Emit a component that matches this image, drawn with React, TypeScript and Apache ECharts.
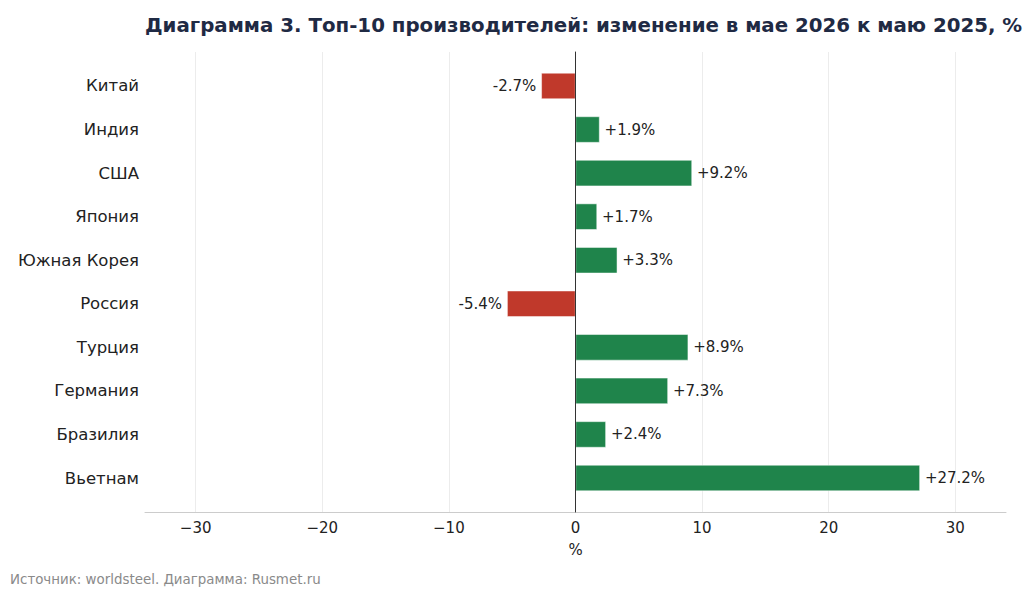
import React, { useEffect, useRef } from "react";
import * as echarts from "echarts";

const categories = [
  "Китай",
  "Индия",
  "США",
  "Япония",
  "Южная Корея",
  "Россия",
  "Турция",
  "Германия",
  "Бразилия",
  "Вьетнам",
];
const changes = [-2.7, 1.9, 9.2, 1.7, 3.3, -5.4, 8.9, 7.3, 2.4, 27.2];
const xMin = -34;
const xMax = 34;
const titleText = "Диаграмма 3. Топ-10 производителей: изменение в мае 2026 к маю 2025, %";
const sourceText = "Источник: worldsteel. Диаграмма: Rusmet.ru";
const axisName = "%";

const FONT = "DejaVu Sans";
const GREEN = "#1f844b";
const RED = "#c0392b";

export default function App() {
  const ref = useRef<HTMLDivElement>(null);
  useEffect(() => {
    if (!ref.current) return;
    const chart = echarts.init(ref.current, undefined, { renderer: "svg" });
    const barData = changes.map((v) => ({
      value: v,
      itemStyle: { color: v < 0 ? RED : GREEN },
      label: { position: v < 0 ? "left" : "right" },
    }));
    const gridTop = 52;
    const gridBottomY = 512;
    const pad = 0.78;
    const n = categories.length;
    const stepC = (gridBottomY - gridTop) / (n - 1 + 2 * pad);
    const barTop = gridTop + (pad - 0.5) * stepC;
    const barHeight = n * stepC;
    chart.setOption({
      animation: false,
      textStyle: { fontFamily: FONT },
      graphic: [
        {
          type: "text",
          left: 145,
          top: 15,
          style: {
            text: titleText,
            font: `bold 19.8px "${FONT}"`,
            fill: "#1f2a44",
          },
        },
        {
          type: "text",
          left: 10,
          top: 573,
          style: {
            text: sourceText,
            font: `13.4px "${FONT}"`,
            fill: "#8a8a8a",
          },
        },
      ],
      grid: [
        { left: 145, right: 18, top: barTop, height: barHeight, containLabel: false },
        { left: 145, right: 18, top: gridTop, height: gridBottomY - gridTop, containLabel: false },
      ],
      xAxis: [
        { gridIndex: 0, type: "value", min: xMin, max: xMax, show: false },
        {
          gridIndex: 1,
          type: "value",
          min: xMin,
          max: xMax,
          name: axisName,
          nameLocation: "middle",
          nameGap: 30,
          nameTextStyle: { fontFamily: FONT, fontSize: 15, color: "#222" },
          axisLine: { show: true, onZero: false, lineStyle: { color: "#cccccc", width: 1 } },
          axisTick: { show: false },
          axisLabel: {
            fontFamily: FONT,
            fontSize: 15,
            color: "#222",
            margin: 8,
            showMinLabel: false,
            showMaxLabel: false,
            formatter: (v: number) => (v < 0 ? "\u2212" + Math.abs(v) : String(v)),
          },
          splitLine: {
            show: true,
            showMinLine: false,
            showMaxLine: false,
            lineStyle: { color: "#ececec", width: 1 },
          },
        },
      ],
      yAxis: [
        {
          gridIndex: 0,
          type: "category",
          data: categories,
          inverse: true,
          axisLine: { show: false },
          axisTick: { show: false },
          axisLabel: { fontFamily: FONT, fontSize: 16.5, color: "#222", margin: 6 },
          splitLine: { show: false },
        },
        {
          gridIndex: 1,
          type: "value",
          min: 0,
          max: 1,
          z: 5,
          axisLine: { show: true, onZero: true, lineStyle: { color: "#333", width: 1 } },
          axisTick: { show: false },
          axisLabel: { show: false },
          splitLine: { show: false },
        },
      ],
      series: [
        {
          type: "bar",
          xAxisIndex: 0,
          yAxisIndex: 0,
          data: barData,
          barWidth: "60%",
          itemStyle: { borderColor: "#ffffff", borderWidth: 0.5 },
          label: {
            show: true,
            distance: 5,
            fontFamily: FONT,
            fontSize: 15,
            color: "#222",
            formatter: (p: any) => (p.value > 0 ? "+" : "") + p.value.toFixed(1) + "%",
          },
        },
        {
          type: "scatter",
          xAxisIndex: 1,
          yAxisIndex: 1,
          data: [],
        },
      ],
    });
    return () => chart.dispose();
  }, []);
  return (
    <div
      ref={ref}
      style={{ position: "absolute", left: 0, top: 0, width: 1024, height: 591 }}
    />
  );
}
